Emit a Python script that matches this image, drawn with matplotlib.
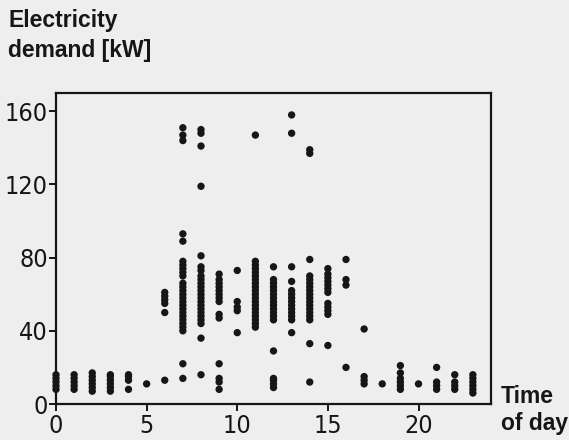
import matplotlib
matplotlib.use("Agg")
import matplotlib.pyplot as plt
from matplotlib import font_manager

# ---- data: electricity demand [kW] observed at each hour of day ----
h00 = [8, 10, 12, 14, 16]
h01 = [8, 10, 12, 14, 16]
h02 = [7, 9, 11, 13, 15, 17]
h03 = [7, 9, 11, 13, 15, 16]
h04 = [8, 13, 15, 16]
h05 = [11]
h06 = [13, 50, 55, 57, 59, 61]
h07 = [14, 22, 40, 42, 44, 46, 48, 50, 52, 54, 56, 58, 60, 62, 64, 66, 70, 72, 74, 76, 78, 89, 93, 144, 147, 151]
h08 = [16, 36, 44, 46, 48, 50, 52, 54, 56, 58, 60, 62, 64, 66, 68, 70, 73, 75, 81, 119, 141, 148, 150]
h09 = [8, 12, 14, 22, 47, 49, 56, 58, 60, 62, 64, 66, 68, 71]
h10 = [39, 51, 53, 56, 73]
h11 = [42, 44, 46, 48, 50, 52, 54, 56, 58, 60, 62, 64, 66, 68, 70, 72, 74, 76, 78, 147]
h12 = [9, 11, 13, 14, 29, 46, 48, 50, 52, 54, 56, 58, 60, 62, 64, 66, 68, 75]
h13 = [39, 46, 48, 50, 52, 54, 56, 58, 60, 62, 67, 75, 148, 158]
h14 = [12, 33, 46, 48, 50, 52, 54, 56, 58, 60, 62, 64, 66, 68, 70, 79, 137, 139]
h15 = [32, 49, 51, 53, 55, 61, 63, 65, 67, 69, 71, 74]
h16 = [20, 65, 68, 79]
h17 = [11, 13, 15, 41]
h18 = [11]
h19 = [8, 10, 12, 14, 17, 21]
h20 = [11]
h21 = [8, 10, 12, 20]
h22 = [8, 10, 12, 16]
h23 = [6, 8, 10, 12, 14, 16]

hours = list(range(24))
demand = [h00, h01, h02, h03, h04, h05, h06, h07, h08, h09, h10, h11,
          h12, h13, h14, h15, h16, h17, h18, h19, h20, h21, h22, h23]

x_ticks = [0, 5, 10, 15, 20]
y_ticks = [0, 40, 80, 120, 160]
y_label = "Electricity\ndemand [kW]"
x_label = "Time\nof day"

# ---- fonts ----
avail = {f.name for f in font_manager.fontManager.ttflist}
if 'Liberation Sans Narrow' in avail:
    tick_font = dict(family=['Liberation Sans Narrow', 'DejaVu Sans'])
else:
    tick_font = dict(family=['DejaVu Sans'], stretch='condensed')
label_family = ['Liberation Sans', 'DejaVu Sans']

ink = '#161616'
paper = '#eeeeee'

xs, ys = [], []
for h, vals in zip(hours, demand):
    xs.extend([h] * len(vals))
    ys.extend(vals)

fig = plt.figure(figsize=(5.69, 4.40), dpi=100, facecolor=paper)
ax = fig.add_axes([56 / 569, 36 / 440, (491 - 56) / 569, (404 - 93) / 440])
ax.set_facecolor(paper)

ax.scatter(xs, ys, s=28, color=ink, edgecolors='none', clip_on=False, zorder=3)

ax.set_xlim(0, 24)
ax.set_ylim(0, 170)
ax.set_xticks(x_ticks)
ax.set_yticks(y_ticks)
ax.tick_params(axis='both', direction='out', length=5, width=1.4, color=ink,
               labelsize=18, labelcolor=ink)
ax.tick_params(axis='y', pad=1)
ax.tick_params(axis='x', pad=2)
for lab in ax.get_xticklabels() + ax.get_yticklabels():
    lab.set_fontproperties(font_manager.FontProperties(size=18, **tick_font))

for sp in ax.spines.values():
    sp.set_linewidth(1.6)
    sp.set_color(ink)

fig.text(8 / 569, 1 - 9 / 440, y_label, ha='left', va='top', fontsize=16.5,
         fontweight='bold', color=ink, family=label_family, linespacing=1.4)
fig.text(501 / 569, 1 - 385 / 440, x_label, ha='left', va='top', fontsize=16.5,
         fontweight='bold', color=ink, family=label_family, linespacing=1.2)

fig.savefig('out.png', dpi=100, facecolor=paper)
